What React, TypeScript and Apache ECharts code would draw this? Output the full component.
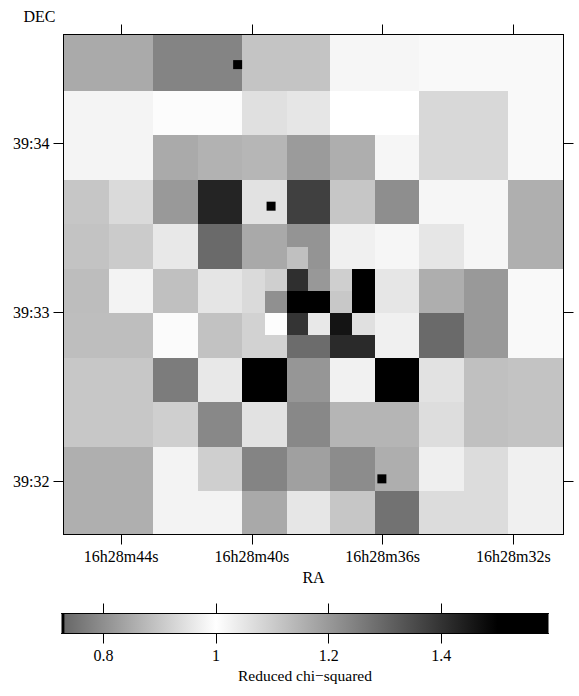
import React, { useEffect, useRef } from "react";
import * as echarts from "echarts";

const FONT = '"Liberation Serif", "Times New Roman", serif';

// Pixel-block edges of the map, in sky coordinates
const raEdges = [45.765, 44.376, 43.032, 41.658, 40.315, 39.613, 38.94, 38.27, 37.6, 36.93, 36.22, 34.88, 33.51, 32.16, 30.467];
const decEdges = [34.644, 34.309, 34.049, 33.783, 33.522, 33.386, 33.256, 33.126, 32.996, 32.866, 32.73, 32.469, 32.203, 31.943, 31.688];

// Reduced chi-squared per block, top row first
const row00 = [1.167, 1.167, 1.241, 1.241, 1.116, 1.116, 1.116, 1.116, 1.018, 1.018, 1.018, 1.012, 1.012, 1.012];
const row01 = [1.022, 1.022, 1.006, 1.006, 1.061, 1.061, 1.049, 1.049, 1.0, 1.0, 1.0, 1.076, 1.076, 1.012];
const row02 = [1.022, 1.022, 1.167, 1.151, 1.143, 1.143, 1.196, 1.196, 1.159, 1.159, 1.018, 1.076, 1.076, 1.012];
const row03 = [1.112, 1.073, 1.2, 1.429, 1.057, 1.057, 1.375, 1.375, 1.112, 1.112, 1.222, 1.018, 1.018, 1.157];
const row04 = [1.118, 1.102, 1.045, 1.292, 1.169, 1.169, 1.21, 1.21, 1.029, 1.029, 1.018, 1.049, 1.018, 1.157];
const row05 = [1.118, 1.102, 1.045, 1.292, 1.169, 1.169, 1.124, 1.21, 1.029, 1.029, 1.018, 1.049, 1.018, 1.157];
const row06 = [1.129, 1.024, 1.124, 1.051, 1.073, 1.094, 1.408, 1.202, 1.094, 1.55, 1.049, 1.159, 1.2, 1.012];
const row07 = [1.129, 1.024, 1.124, 1.051, 1.073, 1.218, 1.55, 1.55, 1.108, 1.55, 1.049, 1.159, 1.2, 1.012];
const row08 = [1.127, 1.127, 1.008, 1.12, 1.088, 1.004, 1.398, 1.045, 1.461, 1.061, 1.029, 1.292, 1.2, 1.012];
const row09 = [1.127, 1.127, 1.008, 1.12, 1.088, 1.088, 1.288, 1.288, 1.418, 1.418, 1.029, 1.292, 1.2, 1.012];
const row10 = [1.11, 1.11, 1.257, 1.045, 1.55, 1.55, 1.206, 1.206, 1.027, 1.027, 1.55, 1.057, 1.124, 1.118];
const row11 = [1.11, 1.11, 1.094, 1.233, 1.057, 1.057, 1.233, 1.233, 1.145, 1.145, 1.145, 1.067, 1.124, 1.118];
const row12 = [1.157, 1.157, 1.024, 1.094, 1.241, 1.241, 1.186, 1.186, 1.225, 1.225, 1.159, 1.031, 1.069, 1.029];
const row13 = [1.157, 1.157, 1.024, 1.024, 1.169, 1.169, 1.049, 1.049, 1.112, 1.112, 1.276, 1.069, 1.069, 1.029];
const rows = [row00, row01, row02, row03, row04, row05, row06, row07, row08, row09, row10, row11, row12, row13];

// Source markers: RA seconds, DEC minutes
const markerRa = [40.437, 39.414, 36.024];
const markerDec = [34.466, 33.629, 32.017];

// Ticks
const raTicks = [44, 40, 36, 32];
const decTicks = [34, 33, 32];
const barTicks = [0.8, 1, 1.2, 1.4];

// Colour map: chi-squared to grey level
const cmapValues = [0.7253, 0.7306, 0.7307, 1.0, 1.5, 1.5907];
const cmapGreys = [0, 0, 104, 255, 0, 0];

const greyHex = (g: number) => {
  const h = Math.round(g).toString(16).padStart(2, "0");
  return `#${h}${h}${h}`;
};

const colourOf = (v: number) => {
  for (let i = 1; i < cmapValues.length; i++) {
    if (v <= cmapValues[i]) {
      const t = (v - cmapValues[i - 1]) / (cmapValues[i] - cmapValues[i - 1]);
      return greyHex(cmapGreys[i - 1] + t * (cmapGreys[i] - cmapGreys[i - 1]));
    }
  }
  return greyHex(cmapGreys[cmapGreys.length - 1]);
};

const mapCells: number[][] = [];
rows.forEach((row, r) => {
  row.forEach((v, c) => {
    mapCells.push([raEdges[c], raEdges[c + 1], decEdges[r], decEdges[r + 1], v]);
  });
});

const textStyle = { color: "#000", fontFamily: FONT, fontSize: 16 };
const line = { lineStyle: { color: "#000", width: 1 } };

function makeOption(): any {
  const barMin = cmapValues[0];
  const barMax = cmapValues[cmapValues.length - 1];
  const stops = cmapValues.map((v, i) => ({
    offset: (v - barMin) / (barMax - barMin),
    color: greyHex(cmapGreys[i]),
  }));
  const hideAxisBits = { axisLabel: { show: false } };
  const mapX = {
    type: "value",
    gridIndex: 0,
    inverse: true,
    min: raEdges[raEdges.length - 1],
    max: raEdges[0],
    splitLine: { show: false },
    z: 10,
    axisLine: { show: true, onZero: false, ...line },
    axisTick: { show: true, length: 10, inside: false, customValues: raTicks, ...line },
  };
  const mapY = {
    type: "value",
    gridIndex: 0,
    min: decEdges[decEdges.length - 1],
    max: decEdges[0],
    splitLine: { show: false },
    z: 10,
    axisLine: { show: true, onZero: false, ...line },
    axisTick: { show: true, length: 10, inside: false, customValues: decTicks, ...line },
  };
  const barX = {
    type: "value",
    gridIndex: 1,
    min: barMin,
    max: barMax,
    splitLine: { show: false },
    z: 10,
    axisLine: { show: true, onZero: false, ...line },
    axisTick: { show: true, length: 10, inside: false, customValues: barTicks, ...line },
  };
  return {
    animation: false,
    backgroundColor: "#fff",
    grid: [
      { left: 63.5, top: 34.5, width: 500, height: 500 },
      { left: 61.5, top: 613.5, width: 487, height: 20 },
    ],
    xAxis: [
      {
        ...mapX,
        position: "bottom",
        name: "RA",
        nameLocation: "middle",
        nameGap: 34,
        nameTextStyle: { ...textStyle },
        axisLabel: {
          show: true,
          margin: 14,
          customValues: raTicks,
          formatter: (v: number) => `16h28m${v}s`,
          ...textStyle,
        },
      },
      { ...mapX, position: "top", ...hideAxisBits },
      {
        ...barX,
        position: "bottom",
        name: "Reduced chi\u2212squared",
        nameLocation: "middle",
        nameGap: 34,
        nameTextStyle: { ...textStyle, fontSize: 15.5 },
        axisLabel: {
          show: true,
          margin: 14,
          customValues: barTicks,
          formatter: (v: number) => String(v),
          ...textStyle,
        },
      },
      { ...barX, position: "top", ...hideAxisBits },
    ],
    yAxis: [
      {
        ...mapY,
        position: "left",
        name: "DEC",
        nameLocation: "end",
        nameGap: 10,
        nameTextStyle: { ...textStyle, align: "right", padding: [0, 8, 0, 0] },
        axisLabel: {
          show: true,
          margin: 14,
          customValues: decTicks,
          formatter: (v: number) => `39:${v}`,
          ...textStyle,
        },
      },
      { ...mapY, position: "right", ...hideAxisBits },
      {
        type: "value",
        gridIndex: 1,
        min: 0,
        max: 1,
        show: false,
      },
    ],
    series: [
      {
        type: "custom",
        name: "map",
        xAxisIndex: 0,
        yAxisIndex: 0,
        coordinateSystem: "cartesian2d",
        silent: true,
        z: 2,
        data: mapCells,
        encode: { x: [0, 1], y: [2, 3] },
        renderItem: (_p: any, api: any) => {
          const a = api.coord([api.value(0), api.value(2)]);
          const b = api.coord([api.value(1), api.value(3)]);
          const x0 = Math.round(a[0]);
          const y0 = Math.round(a[1]);
          return {
            type: "rect",
            shape: {
              x: x0,
              y: y0,
              width: Math.round(b[0]) - x0,
              height: Math.round(b[1]) - y0,
            },
            style: { fill: colourOf(api.value(4) as number) },
          };
        },
      },
      {
        type: "scatter",
        name: "sources",
        xAxisIndex: 0,
        yAxisIndex: 0,
        silent: true,
        z: 5,
        symbol: "rect",
        symbolSize: 9,
        itemStyle: { color: "#000", opacity: 1 },
        data: markerRa.map((ra, i) => [ra, markerDec[i]]),
      },
      {
        type: "custom",
        name: "colourbar",
        xAxisIndex: 2,
        yAxisIndex: 2,
        coordinateSystem: "cartesian2d",
        silent: true,
        z: 2,
        data: [[barMin, barMax, 0, 1]],
        encode: { x: [0, 1], y: [2, 3] },
        renderItem: (_p: any, api: any) => {
          const a = api.coord([api.value(0), api.value(2)]);
          const b = api.coord([api.value(1), api.value(3)]);
          return {
            type: "rect",
            shape: { x: a[0], y: b[1], width: b[0] - a[0], height: a[1] - b[1] },
            style: { fill: new echarts.graphic.LinearGradient(0, 0, 1, 0, stops) },
          };
        },
      },
    ],
  };
}

export default function App() {
  const ref = useRef<HTMLDivElement>(null);
  useEffect(() => {
    const chart = echarts.init(ref.current!, undefined, { renderer: "svg" });
    chart.setOption(makeOption());
    return () => chart.dispose();
  }, []);
  return (
    <div
      ref={ref}
      style={{ position: "absolute", left: 0, top: 0, width: 579, height: 696 }}
    />
  );
}
